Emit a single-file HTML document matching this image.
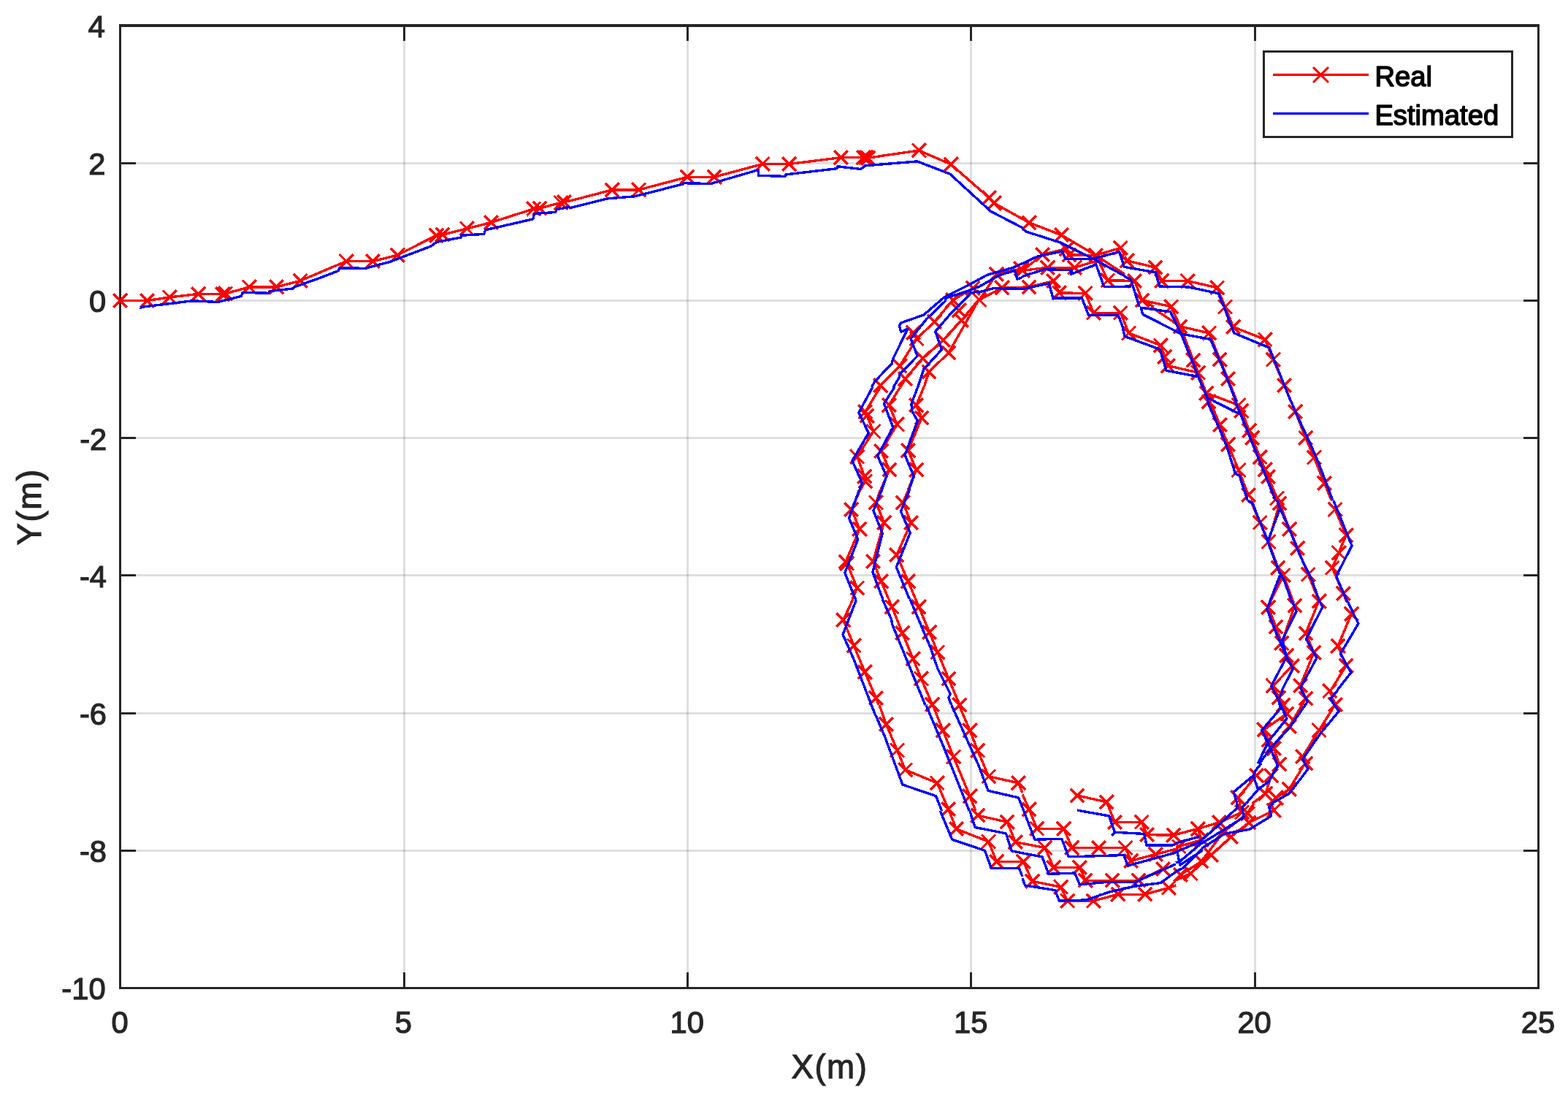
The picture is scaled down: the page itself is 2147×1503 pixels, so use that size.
<!DOCTYPE html>
<html lang="en"><head><meta charset="utf-8"><title>Real vs Estimated trajectory</title>
<style>
html,body{margin:0;padding:0;background:#fff;}
body{width:2147px;height:1503px;overflow:hidden;}
svg{display:block;}
text{font-family:"Liberation Sans",sans-serif;}
.tk{font-size:41.7px;fill:#262626;stroke:#262626;stroke-width:1.2px;}
.lb{font-size:45.8px;fill:#262626;stroke:#262626;stroke-width:1.1px;}
.lg{font-size:38.2px;fill:#000;stroke:#000;stroke-width:1.5px;stroke-linejoin:round;}
</style></head><body>
<svg width="2147" height="1503" viewBox="0 0 2147 1503">
<rect x="0" y="0" width="2147" height="1503" fill="#fff"/>
<g stroke="#262626" stroke-opacity="0.15" stroke-width="3.0" fill="none" shape-rendering="crispEdges">
<line x1="553.0" y1="35.0" x2="553.0" y2="1352.4"/>
<line x1="941.4" y1="35.0" x2="941.4" y2="1352.4"/>
<line x1="1329.8" y1="35.0" x2="1329.8" y2="1352.4"/>
<line x1="1718.2" y1="35.0" x2="1718.2" y2="1352.4"/>
<line x1="164.6" y1="223.2" x2="2106.6" y2="223.2"/>
<line x1="164.6" y1="411.4" x2="2106.6" y2="411.4"/>
<line x1="164.6" y1="599.6" x2="2106.6" y2="599.6"/>
<line x1="164.6" y1="787.8" x2="2106.6" y2="787.8"/>
<line x1="164.6" y1="976.0" x2="2106.6" y2="976.0"/>
<line x1="164.6" y1="1164.2" x2="2106.6" y2="1164.2"/>
</g>
<g stroke="#262626" stroke-width="3.0" fill="none" stroke-linecap="butt" shape-rendering="crispEdges">
<line x1="553.0" y1="1352.4" x2="553.0" y2="1331.4"/>
<line x1="553.0" y1="35.0" x2="553.0" y2="56.0"/>
<line x1="941.4" y1="1352.4" x2="941.4" y2="1331.4"/>
<line x1="941.4" y1="35.0" x2="941.4" y2="56.0"/>
<line x1="1329.8" y1="1352.4" x2="1329.8" y2="1331.4"/>
<line x1="1329.8" y1="35.0" x2="1329.8" y2="56.0"/>
<line x1="1718.2" y1="1352.4" x2="1718.2" y2="1331.4"/>
<line x1="1718.2" y1="35.0" x2="1718.2" y2="56.0"/>
<line x1="164.6" y1="223.2" x2="185.6" y2="223.2"/>
<line x1="2106.6" y1="223.2" x2="2085.6" y2="223.2"/>
<line x1="164.6" y1="411.4" x2="185.6" y2="411.4"/>
<line x1="2106.6" y1="411.4" x2="2085.6" y2="411.4"/>
<line x1="164.6" y1="599.6" x2="185.6" y2="599.6"/>
<line x1="2106.6" y1="599.6" x2="2085.6" y2="599.6"/>
<line x1="164.6" y1="787.8" x2="185.6" y2="787.8"/>
<line x1="2106.6" y1="787.8" x2="2085.6" y2="787.8"/>
<line x1="164.6" y1="976.0" x2="185.6" y2="976.0"/>
<line x1="2106.6" y1="976.0" x2="2085.6" y2="976.0"/>
<line x1="164.6" y1="1164.2" x2="185.6" y2="1164.2"/>
<line x1="2106.6" y1="1164.2" x2="2085.6" y2="1164.2"/>
<rect x="164.6" y="35.0" width="1942.0" height="1317.4"/>
<rect x="163" y="33" width="1945" height="1" fill="#262626" stroke="none"/>
</g>
<g id="real" shape-rendering="crispEdges" stroke="#ff0000" stroke-width="3.4" fill="none" stroke-linejoin="round">
<path d="M164.7 411.5 L201.4 411.5 L232.4 406.9 L271.6 402.4 L305.1 402.7 L308.6 402.0 L341.4 392.9 L378.5 392.9 L411.3 384.3 L430.0 376.3"/>
<path d="M430.0 376.3 L474.1 357.6 L510.3 357.6 L544.4 349.2 L597.5 322.2 L605.9 321.3 L639.4 312.9 L672.4 304.5 L730.7 285.9 L739.1 285.0 L768.0 277.5 L772.6 276.6 L780.0 274.7"/>
<path d="M780.0 275.1 L838.2 259.9 L874.6 259.9 L941.1 242.3 L978.0 242.3 L1044.1 224.5 L1080.8 224.5 L1140.0 217.1"/>
<path d="M1140.0 217.1 L1151.3 215.7 L1182.4 215.7 L1188.6 216.1 L1258.4 206.0 L1302.2 225.0 L1354.4 270.7 L1361.3 278.1 L1400.0 299.7"/>
<path d="M1400.0 299.7 L1409.1 304.8 L1422.7 310.0"/>
<path d="M1422.7 310.0 L1453.4 321.7 L1500.3 349.4 L1540.0 375.4"/>
<path d="M1400.1 370.4 L1427.4 348.6 L1460.1 340.6 L1463.8 349.0 L1500.3 349.4 L1534.3 339.3 L1540.0 350.1"/>
<path d="M1400.0 370.4 L1400.1 370.4 L1434.5 366.2 L1471.4 366.2 L1504.1 356.5 L1516.7 383.8 L1540.0 383.8"/>
<path d="M1400.0 393.2 L1408.9 393.0 L1442.5 384.6 L1450.4 401.0 L1486.1 401.4 L1497.4 428.2 L1534.3 428.2 L1536.6 434.0"/>
<path d="M1540.0 350.8 L1543.1 356.9 L1582.0 366.1 L1590.8 384.6 L1626.1 384.6 L1666.7 393.8 L1677.4 420.0"/>
<path d="M1540.0 384.6 L1553.5 384.6 L1564.0 411.0 L1603.8 419.8 L1604.0 420.0"/>
<path d="M1564.0 411.0 L1579.9 420.0"/>
<path d="M1677.5 420.1 L1688.7 447.5 L1700.0 452.0"/>
<path d="M1700.0 452.0 L1732.3 464.8 L1743.4 492.2 L1758.5 527.4 L1768.1 550.0"/>
<path d="M1603.2 420.0 L1603.7 420.1 L1616.0 446.9 L1655.7 455.9 L1670.2 492.2 L1681.4 518.5 L1693.7 550.0"/>
<path d="M1576.4 420.0 L1616.0 446.9 L1633.9 492.8 L1640.6 510.1 L1651.8 538.1 L1655.1 549.8"/>
<path d="M1540.0 442.2 L1545.6 455.9 L1589.2 472.7 L1594.8 488.3 L1599.2 500.6 L1640.6 510.1"/>
<path d="M1536.7 434.0 L1540.0 442.2"/>
<path d="M1651.8 538.1 L1683.9 550.0"/>
<path d="M1657.0 550.0 L1670.3 581.4 L1681.5 608.2 L1696.0 643.5 L1709.4 677.6"/>
<path d="M1696.0 554.6 L1699.9 562.4 L1710.5 589.2 L1714.5 599.3 L1725.1 625.6 L1732.3 642.9 L1736.3 652.4 L1748.6 682.0 L1750.0 685.0"/>
<path d="M1773.7 563.5 L1787.7 599.3 L1799.4 626.1 L1813.4 661.3 L1823.2 685.0"/>
<path d="M1683.8 550.0 L1696.0 554.6"/>
<path d="M1712.3 685.0 L1725.3 715.3 L1737.0 741.5 L1749.9 777.3 L1757.1 787.4 L1771.4 825.0"/>
<path d="M1750.1 685.0 L1752.1 689.0 L1765.5 724.2 L1776.7 750.5 L1791.2 786.3 L1806.3 823.1"/>
<path d="M1752.1 689.0 L1737.0 741.5"/>
<path d="M1757.1 787.4 L1738.8 825.0"/>
<path d="M1828.1 697.4 L1843.2 732.6 L1833.1 756.6 L1824.2 777.3 L1839.3 812.5 L1844.6 825.0"/>
<path d="M1736.5 831.2 L1747.1 858.1 L1754.9 880.4 L1761.6 897.2 L1769.4 911.7 L1743.2 938.6 L1746.4 945.0"/>
<path d="M1772.8 829.0 L1754.9 880.4"/>
<path d="M1804.8 825.0 L1787.9 867.0 L1799.0 893.3 L1780.6 938.6 L1783.2 945.0"/>
<path d="M1850.5 840.2 L1832.0 884.3 L1843.2 911.2 L1822.1 945.0"/>
<path d="M1821.3 945.0 L1820.7 945.9 L1828.3 964.4 L1806.1 999.6 L1783.8 1035.6 L1788.0 1044.9 L1787.9 1045.0"/>
<path d="M1783.3 945.0 L1788.0 956.0 L1765.4 994.6 L1741.9 1022.2"/>
<path d="M1746.1 945.0 L1751.1 955.2 L1757.0 965.2 L1762.0 976.9 L1731.0 998.7 L1736.9 1013.0 L1744.4 1024.7 L1750.9 1045.0"/>
<path d="M1755.5 945.0 L1751.1 955.2"/>
<path d="M1786.9 1045.0 L1765.2 1080.2 L1747.3 1092.0 L1742.4 1100.0"/>
<path d="M1751.8 1046.1 L1740.6 1061.8 L1732.8 1086.4 L1714.4 1100.0"/>
<path d="M1720.5 1061.8 L1694.8 1092.0 L1698.5 1100.0"/>
<path d="M1740.6 1100.0 L1744.2 1109.3 L1709.8 1126.1 L1685.5 1145.4 L1658.7 1170.5 L1630.2 1195.7 L1610.0 1205.2"/>
<path d="M1716.5 1100.0 L1708.2 1113.5 L1675.5 1138.7 L1645.3 1178.9 L1616.8 1197.4"/>
<path d="M1696.7 1100.0 L1700.6 1111.9 L1669.4 1125.8 L1640.2 1134.5 L1610.0 1142.2"/>
<path d="M1640.2 1134.5 L1645.3 1149.6 L1614.3 1158.8 L1610.0 1159.8"/>
<path d="M1475.0 1088.9 L1515.3 1097.9 L1526.4 1125.3 L1563.3 1125.3 L1570.6 1142.6 L1606.9 1143.2 L1610.0 1142.8"/>
<path d="M1400.0 1087.3 L1409.1 1107.9 L1419.7 1134.2 L1456.6 1134.2 L1467.8 1160.5 L1504.6 1160.5 L1541.0 1160.5 L1548.8 1178.4 L1582.3 1169.4 L1610.0 1162.3"/>
<path d="M1400.0 1154.5 L1430.9 1160.5 L1442.6 1187.3 L1478.4 1187.3 L1486.2 1205.2 L1523.1 1205.2 L1558.9 1205.2 L1592.4 1189.5"/>
<path d="M1400.0 1179.5 L1401.2 1179.5 L1413.5 1206.3 L1452.7 1214.1 L1461.6 1233.1 L1497.4 1233.1 L1530.9 1224.2 L1567.8 1224.2 L1600.2 1215.3 L1610.0 1211.9"/>
<path d="M1204.0 965.0 L1213.4 991.3 L1228.5 1027.1 L1239.7 1053.9 L1283.3 1071.8 L1298.4 1107.6 L1299.3 1110.0"/>
<path d="M1277.3 965.0 L1291.1 999.7 L1305.6 1036.0 L1328.0 1089.7 L1336.0 1110.0"/>
<path d="M1313.1 965.0 L1328.0 999.7 L1338.6 1027.1 L1353.7 1062.8 L1394.5 1071.8 L1400.0 1085.3"/>
<path d="M1168.0 820.0 L1154.7 848.6 L1169.2 883.8 L1184.3 920.1 L1199.4 955.3 L1203.2 965.0"/>
<path d="M1216.8 820.0 L1221.2 830.7 L1235.7 866.5 L1250.2 901.7 L1261.4 929.0 L1276.5 964.3 L1276.8 965.0"/>
<path d="M1253.7 820.0 L1258.1 830.7 L1272.6 865.3 L1283.8 892.7 L1298.9 929.0 L1313.9 964.8 L1314.0 965.0"/>
<path d="M1178.1 670.0 L1165.8 697.4 L1177.0 724.3 L1158.0 769.0 L1159.7 771.2 L1173.7 804.8 L1167.0 820.0"/>
<path d="M1205.8 670.0 L1199.4 687.9 L1210.5 715.3 L1195.5 768.4 L1206.6 795.8 L1216.7 820.0"/>
<path d="M1244.2 670.0 L1236.3 687.9 L1247.4 715.3 L1227.9 759.5 L1243.5 795.8 L1253.6 820.0"/>
<path d="M1205.3 530.0 L1184.8 563.7 L1187.1 569.2 L1196.0 590.5 L1173.7 625.1 L1183.7 652.0 L1184.8 658.7 L1178.3 670.0"/>
<path d="M1232.5 530.0 L1217.3 554.7 L1228.4 581.0 L1206.6 617.3 L1217.8 643.0 L1206.2 670.0"/>
<path d="M1264.9 530.0 L1254.7 554.7 L1262.0 572.0 L1243.5 616.8 L1254.7 643.0 L1243.5 670.0"/>
<path d="M1204.3 530.0 L1205.8 527.6 L1232.0 500.7 L1255.3 463.8 L1279.5 440.3 L1304.7 411.0 L1332.1 394.5 L1340.0 392.3"/>
<path d="M1233.2 530.0 L1239.3 518.6 L1263.7 490.6 L1291.3 465.5 L1316.5 438.6 L1340.0 410.3"/>
<path d="M1265.2 530.0 L1271.9 509.0 L1298.9 483.0 L1340.0 410.7"/>
<path d="M1299.7 1110.0 L1309.3 1134.7 L1353.5 1152.0 L1364.6 1179.4 L1400.0 1179.4"/>
<path d="M1338.9 1116.3 L1379.2 1125.2 L1390.3 1152.6 L1400.0 1154.6"/>
<path d="M1341.0 410.5 L1364.5 375.3 L1398.0 367.8 L1400.0 366.5"/>
<path d="M1398.0 367.8 L1400.0 367.7"/>
<path d="M1341.0 410.5 L1372.0 393.8 L1400.0 393.8"/>
<path stroke-linecap="butt" d="M155.3 402.1l18.8 18.8M155.3 420.9l18.8 -18.8M192.0 402.1l18.8 18.8M192.0 420.9l18.8 -18.8M223.0 397.5l18.8 18.8M223.0 416.3l18.8 -18.8M262.2 393.0l18.8 18.8M262.2 411.8l18.8 -18.8M295.7 393.3l18.8 18.8M295.7 412.1l18.8 -18.8M299.2 392.6l18.8 18.8M299.2 411.4l18.8 -18.8M332.0 383.5l18.8 18.8M332.0 402.3l18.8 -18.8M369.1 383.5l18.8 18.8M369.1 402.3l18.8 -18.8M401.9 374.9l18.8 18.8M401.9 393.7l18.8 -18.8M464.7 348.2l18.8 18.8M464.7 367.0l18.8 -18.8M500.9 348.2l18.8 18.8M500.9 367.0l18.8 -18.8M535.0 339.8l18.8 18.8M535.0 358.6l18.8 -18.8M588.1 312.8l18.8 18.8M588.1 331.6l18.8 -18.8M596.5 311.9l18.8 18.8M596.5 330.7l18.8 -18.8M630.0 303.5l18.8 18.8M630.0 322.3l18.8 -18.8M663.0 295.1l18.8 18.8M663.0 313.9l18.8 -18.8M721.3 276.5l18.8 18.8M721.3 295.3l18.8 -18.8M729.7 275.6l18.8 18.8M729.7 294.4l18.8 -18.8M758.6 268.1l18.8 18.8M758.6 286.9l18.8 -18.8M763.2 267.2l18.8 18.8M763.2 286.0l18.8 -18.8M828.8 250.5l18.8 18.8M828.8 269.3l18.8 -18.8M865.2 250.5l18.8 18.8M865.2 269.3l18.8 -18.8M931.7 232.9l18.8 18.8M931.7 251.7l18.8 -18.8M968.6 232.9l18.8 18.8M968.6 251.7l18.8 -18.8M1034.7 215.1l18.8 18.8M1034.7 233.9l18.8 -18.8M1071.4 215.1l18.8 18.8M1071.4 233.9l18.8 -18.8M1141.9 206.3l18.8 18.8M1141.9 225.1l18.8 -18.8M1173.0 206.3l18.8 18.8M1173.0 225.1l18.8 -18.8M1179.2 206.7l18.8 18.8M1179.2 225.5l18.8 -18.8M1249.0 196.6l18.8 18.8M1249.0 215.4l18.8 -18.8M1292.8 215.6l18.8 18.8M1292.8 234.4l18.8 -18.8M1345.0 261.3l18.8 18.8M1345.0 280.1l18.8 -18.8M1351.9 268.7l18.8 18.8M1351.9 287.5l18.8 -18.8M1399.7 295.4l18.8 18.8M1399.7 314.2l18.8 -18.8M1176.2 205.9l18.8 18.8M1176.2 224.7l18.8 -18.8M1444.0 312.3l18.8 18.8M1444.0 331.1l18.8 -18.8M1490.9 340.0l18.8 18.8M1490.9 358.8l18.8 -18.8M1390.7 361.0l18.8 18.8M1390.7 379.8l18.8 -18.8M1418.0 339.2l18.8 18.8M1418.0 358.0l18.8 -18.8M1450.7 331.2l18.8 18.8M1450.7 350.0l18.8 -18.8M1454.4 339.6l18.8 18.8M1454.4 358.4l18.8 -18.8M1524.9 329.9l18.8 18.8M1524.9 348.7l18.8 -18.8M1425.1 356.8l18.8 18.8M1425.1 375.6l18.8 -18.8M1462.0 356.8l18.8 18.8M1462.0 375.6l18.8 -18.8M1494.7 347.1l18.8 18.8M1494.7 365.9l18.8 -18.8M1507.3 374.4l18.8 18.8M1507.3 393.2l18.8 -18.8M1399.5 383.6l18.8 18.8M1399.5 402.4l18.8 -18.8M1433.1 375.2l18.8 18.8M1433.1 394.0l18.8 -18.8M1441.0 391.6l18.8 18.8M1441.0 410.4l18.8 -18.8M1476.7 392.0l18.8 18.8M1476.7 410.8l18.8 -18.8M1488.0 418.8l18.8 18.8M1488.0 437.6l18.8 -18.8M1524.9 418.8l18.8 18.8M1524.9 437.6l18.8 -18.8M1533.7 347.5l18.8 18.8M1533.7 366.3l18.8 -18.8M1572.6 356.7l18.8 18.8M1572.6 375.5l18.8 -18.8M1581.4 375.2l18.8 18.8M1581.4 394.0l18.8 -18.8M1616.7 375.2l18.8 18.8M1616.7 394.0l18.8 -18.8M1657.3 384.4l18.8 18.8M1657.3 403.2l18.8 -18.8M1544.1 375.2l18.8 18.8M1544.1 394.0l18.8 -18.8M1554.6 401.6l18.8 18.8M1554.6 420.4l18.8 -18.8M1594.4 410.4l18.8 18.8M1594.4 429.2l18.8 -18.8M1668.1 410.7l18.8 18.8M1668.1 429.5l18.8 -18.8M1679.3 438.1l18.8 18.8M1679.3 456.9l18.8 -18.8M1722.9 455.4l18.8 18.8M1722.9 474.2l18.8 -18.8M1734.0 482.8l18.8 18.8M1734.0 501.6l18.8 -18.8M1749.1 518.0l18.8 18.8M1749.1 536.8l18.8 -18.8M1606.6 437.5l18.8 18.8M1606.6 456.3l18.8 -18.8M1646.3 446.5l18.8 18.8M1646.3 465.3l18.8 -18.8M1660.8 482.8l18.8 18.8M1660.8 501.6l18.8 -18.8M1672.0 509.1l18.8 18.8M1672.0 527.9l18.8 -18.8M1624.5 483.4l18.8 18.8M1624.5 502.2l18.8 -18.8M1631.2 500.7l18.8 18.8M1631.2 519.5l18.8 -18.8M1642.4 528.7l18.8 18.8M1642.4 547.5l18.8 -18.8M1645.7 540.4l18.8 18.8M1645.7 559.2l18.8 -18.8M1536.2 446.5l18.8 18.8M1536.2 465.3l18.8 -18.8M1579.8 463.3l18.8 18.8M1579.8 482.1l18.8 -18.8M1585.4 478.9l18.8 18.8M1585.4 497.7l18.8 -18.8M1589.8 491.2l18.8 18.8M1589.8 510.0l18.8 -18.8M1660.9 572.0l18.8 18.8M1660.9 590.8l18.8 -18.8M1672.1 598.8l18.8 18.8M1672.1 617.6l18.8 -18.8M1686.6 634.1l18.8 18.8M1686.6 652.9l18.8 -18.8M1700.0 668.2l18.8 18.8M1700.0 687.0l18.8 -18.8M1686.6 545.2l18.8 18.8M1686.6 564.0l18.8 -18.8M1690.5 553.0l18.8 18.8M1690.5 571.8l18.8 -18.8M1701.1 579.8l18.8 18.8M1701.1 598.6l18.8 -18.8M1705.1 589.9l18.8 18.8M1705.1 608.7l18.8 -18.8M1715.7 616.2l18.8 18.8M1715.7 635.0l18.8 -18.8M1722.9 633.5l18.8 18.8M1722.9 652.3l18.8 -18.8M1726.9 643.0l18.8 18.8M1726.9 661.8l18.8 -18.8M1739.2 672.6l18.8 18.8M1739.2 691.4l18.8 -18.8M1764.3 554.1l18.8 18.8M1764.3 572.9l18.8 -18.8M1778.3 589.9l18.8 18.8M1778.3 608.7l18.8 -18.8M1790.0 616.7l18.8 18.8M1790.0 635.5l18.8 -18.8M1804.0 651.9l18.8 18.8M1804.0 670.7l18.8 -18.8M1715.9 705.9l18.8 18.8M1715.9 724.7l18.8 -18.8M1727.6 732.1l18.8 18.8M1727.6 750.9l18.8 -18.8M1740.5 767.9l18.8 18.8M1740.5 786.7l18.8 -18.8M1747.7 778.0l18.8 18.8M1747.7 796.8l18.8 -18.8M1742.7 679.6l18.8 18.8M1742.7 698.4l18.8 -18.8M1756.1 714.8l18.8 18.8M1756.1 733.6l18.8 -18.8M1767.3 741.1l18.8 18.8M1767.3 759.9l18.8 -18.8M1781.8 776.9l18.8 18.8M1781.8 795.7l18.8 -18.8M1796.9 813.7l18.8 18.8M1796.9 832.5l18.8 -18.8M1818.7 688.0l18.8 18.8M1818.7 706.8l18.8 -18.8M1833.8 723.2l18.8 18.8M1833.8 742.0l18.8 -18.8M1823.7 747.2l18.8 18.8M1823.7 766.0l18.8 -18.8M1814.8 767.9l18.8 18.8M1814.8 786.7l18.8 -18.8M1829.9 803.1l18.8 18.8M1829.9 821.9l18.8 -18.8M1727.1 821.8l18.8 18.8M1727.1 840.6l18.8 -18.8M1737.7 848.7l18.8 18.8M1737.7 867.5l18.8 -18.8M1745.5 871.0l18.8 18.8M1745.5 889.8l18.8 -18.8M1752.2 887.8l18.8 18.8M1752.2 906.6l18.8 -18.8M1760.0 902.3l18.8 18.8M1760.0 921.1l18.8 -18.8M1733.8 929.2l18.8 18.8M1733.8 948.0l18.8 -18.8M1763.4 819.6l18.8 18.8M1763.4 838.4l18.8 -18.8M1778.5 857.6l18.8 18.8M1778.5 876.4l18.8 -18.8M1789.6 883.9l18.8 18.8M1789.6 902.7l18.8 -18.8M1771.2 929.2l18.8 18.8M1771.2 948.0l18.8 -18.8M1841.1 830.8l18.8 18.8M1841.1 849.6l18.8 -18.8M1822.6 874.9l18.8 18.8M1822.6 893.7l18.8 -18.8M1833.8 901.8l18.8 18.8M1833.8 920.6l18.8 -18.8M1811.3 936.5l18.8 18.8M1811.3 955.3l18.8 -18.8M1818.9 955.0l18.8 18.8M1818.9 973.8l18.8 -18.8M1796.7 990.2l18.8 18.8M1796.7 1009.0l18.8 -18.8M1774.4 1026.2l18.8 18.8M1774.4 1045.0l18.8 -18.8M1778.6 1035.5l18.8 18.8M1778.6 1054.3l18.8 -18.8M1778.6 946.6l18.8 18.8M1778.6 965.4l18.8 -18.8M1756.0 985.2l18.8 18.8M1756.0 1004.0l18.8 -18.8M1732.5 1012.8l18.8 18.8M1732.5 1031.6l18.8 -18.8M1741.7 945.8l18.8 18.8M1741.7 964.6l18.8 -18.8M1747.6 955.8l18.8 18.8M1747.6 974.6l18.8 -18.8M1752.6 967.5l18.8 18.8M1752.6 986.3l18.8 -18.8M1721.6 989.3l18.8 18.8M1721.6 1008.1l18.8 -18.8M1727.5 1003.6l18.8 18.8M1727.5 1022.4l18.8 -18.8M1735.0 1015.3l18.8 18.8M1735.0 1034.1l18.8 -18.8M1755.8 1070.8l18.8 18.8M1755.8 1089.6l18.8 -18.8M1737.9 1082.6l18.8 18.8M1737.9 1101.4l18.8 -18.8M1742.4 1036.7l18.8 18.8M1742.4 1055.5l18.8 -18.8M1731.2 1052.4l18.8 18.8M1731.2 1071.2l18.8 -18.8M1723.4 1077.0l18.8 18.8M1723.4 1095.8l18.8 -18.8M1711.1 1052.4l18.8 18.8M1711.1 1071.2l18.8 -18.8M1685.4 1082.6l18.8 18.8M1685.4 1101.4l18.8 -18.8M1734.8 1099.9l18.8 18.8M1734.8 1118.7l18.8 -18.8M1700.4 1116.7l18.8 18.8M1700.4 1135.5l18.8 -18.8M1676.1 1136.0l18.8 18.8M1676.1 1154.8l18.8 -18.8M1649.3 1161.1l18.8 18.8M1649.3 1179.9l18.8 -18.8M1620.8 1186.3l18.8 18.8M1620.8 1205.1l18.8 -18.8M1698.8 1104.1l18.8 18.8M1698.8 1122.9l18.8 -18.8M1666.1 1129.3l18.8 18.8M1666.1 1148.1l18.8 -18.8M1635.9 1169.5l18.8 18.8M1635.9 1188.3l18.8 -18.8M1607.4 1188.0l18.8 18.8M1607.4 1206.8l18.8 -18.8M1691.2 1102.5l18.8 18.8M1691.2 1121.3l18.8 -18.8M1660.0 1116.4l18.8 18.8M1660.0 1135.2l18.8 -18.8M1630.8 1125.1l18.8 18.8M1630.8 1143.9l18.8 -18.8M1635.9 1140.2l18.8 18.8M1635.9 1159.0l18.8 -18.8M1604.9 1149.4l18.8 18.8M1604.9 1168.2l18.8 -18.8M1465.6 1079.5l18.8 18.8M1465.6 1098.3l18.8 -18.8M1505.9 1088.5l18.8 18.8M1505.9 1107.3l18.8 -18.8M1517.0 1115.9l18.8 18.8M1517.0 1134.7l18.8 -18.8M1553.9 1115.9l18.8 18.8M1553.9 1134.7l18.8 -18.8M1561.2 1133.2l18.8 18.8M1561.2 1152.0l18.8 -18.8M1597.5 1133.8l18.8 18.8M1597.5 1152.6l18.8 -18.8M1399.7 1098.5l18.8 18.8M1399.7 1117.3l18.8 -18.8M1410.3 1124.8l18.8 18.8M1410.3 1143.6l18.8 -18.8M1447.2 1124.8l18.8 18.8M1447.2 1143.6l18.8 -18.8M1458.4 1151.1l18.8 18.8M1458.4 1169.9l18.8 -18.8M1495.2 1151.1l18.8 18.8M1495.2 1169.9l18.8 -18.8M1531.6 1151.1l18.8 18.8M1531.6 1169.9l18.8 -18.8M1539.4 1169.0l18.8 18.8M1539.4 1187.8l18.8 -18.8M1572.9 1160.0l18.8 18.8M1572.9 1178.8l18.8 -18.8M1421.5 1151.1l18.8 18.8M1421.5 1169.9l18.8 -18.8M1433.2 1177.9l18.8 18.8M1433.2 1196.7l18.8 -18.8M1469.0 1177.9l18.8 18.8M1469.0 1196.7l18.8 -18.8M1476.8 1195.8l18.8 18.8M1476.8 1214.6l18.8 -18.8M1513.7 1195.8l18.8 18.8M1513.7 1214.6l18.8 -18.8M1549.5 1195.8l18.8 18.8M1549.5 1214.6l18.8 -18.8M1583.0 1180.1l18.8 18.8M1583.0 1198.9l18.8 -18.8M1391.8 1170.1l18.8 18.8M1391.8 1188.9l18.8 -18.8M1404.1 1196.9l18.8 18.8M1404.1 1215.7l18.8 -18.8M1443.3 1204.7l18.8 18.8M1443.3 1223.5l18.8 -18.8M1452.2 1223.7l18.8 18.8M1452.2 1242.5l18.8 -18.8M1488.0 1223.7l18.8 18.8M1488.0 1242.5l18.8 -18.8M1521.5 1214.8l18.8 18.8M1521.5 1233.6l18.8 -18.8M1558.4 1214.8l18.8 18.8M1558.4 1233.6l18.8 -18.8M1590.8 1205.9l18.8 18.8M1590.8 1224.7l18.8 -18.8M1204.0 981.9l18.8 18.8M1204.0 1000.7l18.8 -18.8M1219.1 1017.7l18.8 18.8M1219.1 1036.5l18.8 -18.8M1230.3 1044.5l18.8 18.8M1230.3 1063.3l18.8 -18.8M1273.9 1062.4l18.8 18.8M1273.9 1081.2l18.8 -18.8M1289.0 1098.2l18.8 18.8M1289.0 1117.0l18.8 -18.8M1281.7 990.3l18.8 18.8M1281.7 1009.1l18.8 -18.8M1296.2 1026.6l18.8 18.8M1296.2 1045.4l18.8 -18.8M1318.6 1080.3l18.8 18.8M1318.6 1099.1l18.8 -18.8M1318.6 990.3l18.8 18.8M1318.6 1009.1l18.8 -18.8M1329.2 1017.7l18.8 18.8M1329.2 1036.5l18.8 -18.8M1344.3 1053.4l18.8 18.8M1344.3 1072.2l18.8 -18.8M1385.1 1062.4l18.8 18.8M1385.1 1081.2l18.8 -18.8M1145.3 839.2l18.8 18.8M1145.3 858.0l18.8 -18.8M1159.8 874.4l18.8 18.8M1159.8 893.2l18.8 -18.8M1174.9 910.7l18.8 18.8M1174.9 929.5l18.8 -18.8M1190.0 945.9l18.8 18.8M1190.0 964.7l18.8 -18.8M1211.8 821.3l18.8 18.8M1211.8 840.1l18.8 -18.8M1226.3 857.1l18.8 18.8M1226.3 875.9l18.8 -18.8M1240.8 892.3l18.8 18.8M1240.8 911.1l18.8 -18.8M1252.0 919.6l18.8 18.8M1252.0 938.4l18.8 -18.8M1267.1 954.9l18.8 18.8M1267.1 973.7l18.8 -18.8M1248.7 821.3l18.8 18.8M1248.7 840.1l18.8 -18.8M1263.2 855.9l18.8 18.8M1263.2 874.7l18.8 -18.8M1274.4 883.3l18.8 18.8M1274.4 902.1l18.8 -18.8M1289.5 919.6l18.8 18.8M1289.5 938.4l18.8 -18.8M1304.5 955.4l18.8 18.8M1304.5 974.2l18.8 -18.8M1156.4 688.0l18.8 18.8M1156.4 706.8l18.8 -18.8M1167.6 714.9l18.8 18.8M1167.6 733.7l18.8 -18.8M1148.6 759.6l18.8 18.8M1148.6 778.4l18.8 -18.8M1150.3 761.8l18.8 18.8M1150.3 780.6l18.8 -18.8M1164.3 795.4l18.8 18.8M1164.3 814.2l18.8 -18.8M1190.0 678.5l18.8 18.8M1190.0 697.3l18.8 -18.8M1201.1 705.9l18.8 18.8M1201.1 724.7l18.8 -18.8M1186.1 759.0l18.8 18.8M1186.1 777.8l18.8 -18.8M1197.2 786.4l18.8 18.8M1197.2 805.2l18.8 -18.8M1226.9 678.5l18.8 18.8M1226.9 697.3l18.8 -18.8M1238.0 705.9l18.8 18.8M1238.0 724.7l18.8 -18.8M1218.5 750.1l18.8 18.8M1218.5 768.9l18.8 -18.8M1234.1 786.4l18.8 18.8M1234.1 805.2l18.8 -18.8M1175.4 554.3l18.8 18.8M1175.4 573.1l18.8 -18.8M1177.7 559.8l18.8 18.8M1177.7 578.6l18.8 -18.8M1186.6 581.1l18.8 18.8M1186.6 599.9l18.8 -18.8M1164.3 615.7l18.8 18.8M1164.3 634.5l18.8 -18.8M1174.3 642.6l18.8 18.8M1174.3 661.4l18.8 -18.8M1175.4 649.3l18.8 18.8M1175.4 668.1l18.8 -18.8M1207.9 545.3l18.8 18.8M1207.9 564.1l18.8 -18.8M1219.0 571.6l18.8 18.8M1219.0 590.4l18.8 -18.8M1197.2 607.9l18.8 18.8M1197.2 626.7l18.8 -18.8M1208.4 633.6l18.8 18.8M1208.4 652.4l18.8 -18.8M1245.3 545.3l18.8 18.8M1245.3 564.1l18.8 -18.8M1252.6 562.6l18.8 18.8M1252.6 581.4l18.8 -18.8M1234.1 607.4l18.8 18.8M1234.1 626.2l18.8 -18.8M1245.3 633.6l18.8 18.8M1245.3 652.4l18.8 -18.8M1196.4 518.2l18.8 18.8M1196.4 537.0l18.8 -18.8M1222.6 491.3l18.8 18.8M1222.6 510.1l18.8 -18.8M1245.9 454.4l18.8 18.8M1245.9 473.2l18.8 -18.8M1270.1 430.9l18.8 18.8M1270.1 449.7l18.8 -18.8M1295.3 401.6l18.8 18.8M1295.3 420.4l18.8 -18.8M1322.7 385.1l18.8 18.8M1322.7 403.9l18.8 -18.8M1229.9 509.2l18.8 18.8M1229.9 528.0l18.8 -18.8M1254.3 481.2l18.8 18.8M1254.3 500.0l18.8 -18.8M1281.9 456.1l18.8 18.8M1281.9 474.9l18.8 -18.8M1307.1 429.2l18.8 18.8M1307.1 448.0l18.8 -18.8M1262.5 499.6l18.8 18.8M1262.5 518.4l18.8 -18.8M1289.5 473.6l18.8 18.8M1289.5 492.4l18.8 -18.8M1240.9 446.1l18.8 18.8M1240.9 464.9l18.8 -18.8M1303.7 415.3l18.8 18.8M1303.7 434.1l18.8 -18.8M1299.9 1125.3l18.8 18.8M1299.9 1144.1l18.8 -18.8M1344.1 1142.6l18.8 18.8M1344.1 1161.4l18.8 -18.8M1355.2 1170.0l18.8 18.8M1355.2 1188.8l18.8 -18.8M1329.5 1106.9l18.8 18.8M1329.5 1125.7l18.8 -18.8M1369.8 1115.8l18.8 18.8M1369.8 1134.6l18.8 -18.8M1380.9 1143.2l18.8 18.8M1380.9 1162.0l18.8 -18.8M1331.6 401.1l18.8 18.8M1331.6 419.9l18.8 -18.8M1355.1 365.9l18.8 18.8M1355.1 384.7l18.8 -18.8M1388.6 358.4l18.8 18.8M1388.6 377.2l18.8 -18.8M1362.6 384.4l18.8 18.8M1362.6 403.2l18.8 -18.8"/>
</g>
<g id="estimated" shape-rendering="crispEdges" stroke="#0000ff" stroke-width="3.4" fill="none" stroke-linejoin="round" stroke-linecap="butt">
<path d="M192.6 423.0 L193.3 420.4 L263.2 411.8 L298.1 413.5 L330.3 405.5 L332.3 400.3 L368.0 401.3 L369.4 398.5 L401.5 395.0 L402.9 392.9 L430.0 383.3"/>
<path d="M430.0 383.5 L463.3 370.7 L464.8 366.9 L500.6 367.3 L533.2 358.6 L590.0 337.1 L597.5 331.5 L631.0 325.0 L632.0 322.2 L662.7 320.4 L664.6 314.8 L729.8 299.9 L731.6 292.4 L760.5 290.5 L762.4 286.8 L780.0 283.1"/>
<path d="M780.0 284.8 L830.8 272.0 L869.0 268.8 L935.1 252.0 L936.1 250.7 L973.3 251.5 L1038.5 232.5 L1038.5 240.3 L1074.9 241.4 L1075.8 239.0 L1140.0 231.4"/>
<path d="M1140.0 231.5 L1146.1 230.6 L1147.0 227.8 L1178.7 231.5 L1184.3 226.9 L1256.0 220.9 L1300.7 238.1 L1356.6 289.3 L1400.0 311.8"/>
<path d="M1400.0 313.1 L1405.2 317.1 L1451.3 331.8 L1497.4 354.4 L1540.0 377.9"/>
<path d="M1400.0 360.8 L1420.2 351.1 L1454.6 344.0 L1458.8 354.4 L1495.7 354.4 L1532.6 344.8 L1539.3 365.3 L1540.0 365.4"/>
<path d="M1400.0 378.3 L1430.3 368.7 L1467.2 369.9 L1466.4 375.4 L1500.7 362.0 L1511.6 392.2 L1540.0 392.2"/>
<path d="M1400.0 395.5 L1401.0 395.5 L1436.2 388.0 L1442.0 408.1 L1481.4 408.1 L1490.7 431.6 L1530.9 431.6 L1531.9 434.0"/>
<path d="M1540.0 365.5 L1582.0 372.8 L1587.9 392.1 L1627.3 392.9 L1668.4 401.7 L1675.7 420.0"/>
<path d="M1540.0 378.4 L1548.5 382.9 L1560.1 420.0"/>
<path d="M1540.0 392.1 L1548.5 392.1"/>
<path d="M1676.0 420.0 L1679.7 430.2 L1689.8 455.9 L1700.0 460.2"/>
<path d="M1700.0 460.2 L1737.9 476.0 L1752.4 511.8 L1767.6 550.0"/>
<path d="M1561.8 420.0 L1562.4 421.2 L1602.6 426.8 L1617.1 457.0 L1657.4 464.3 L1673.0 500.6 L1684.2 528.6 L1692.7 550.0"/>
<path d="M1562.4 421.2 L1564.6 430.2 L1617.1 457.0 L1635.0 500.6 L1639.5 512.9 L1652.9 544.2 L1654.0 550.0"/>
<path d="M1540.0 460.4 L1540.0 460.4 L1588.1 478.2 L1597.0 507.3 L1638.4 515.1 L1639.5 512.9"/>
<path d="M1532.1 434.0 L1536.8 445.9 L1540.0 460.4 L1540.0 460.4"/>
<path d="M1652.9 544.2 L1664.2 550.0"/>
<path d="M1653.8 550.0 L1654.7 553.5 L1670.3 588.1 L1680.4 612.7 L1691.5 648.5 L1697.1 650.7 L1708.2 685.0"/>
<path d="M1691.3 550.0 L1698.2 565.8 L1746.6 685.0"/>
<path d="M1663.6 550.0 L1698.2 566.9"/>
<path d="M1768.1 550.0 L1774.3 564.7 L1794.4 608.2 L1805.6 634.0 L1821.2 675.3 L1825.0 685.0"/>
<path d="M1709.4 685.0 L1710.2 686.8 L1714.7 687.9 L1735.9 741.5 L1751.5 782.9 L1758.2 794.1 L1769.3 825.0"/>
<path d="M1748.5 685.0 L1752.7 695.7 L1769.4 733.7 L1780.6 761.7 L1796.3 794.1 L1807.5 825.0"/>
<path d="M1752.7 695.7 L1735.9 741.5"/>
<path d="M1752.7 787.4 L1738.2 825.0"/>
<path d="M1825.8 685.0 L1851.0 747.1 L1830.3 787.4 L1830.9 791.8 L1845.4 825.0"/>
<path d="M1738.4 825.0 L1734.8 833.5 L1744.8 860.3 L1761.6 899.4 L1740.9 938.6 L1742.9 945.0"/>
<path d="M1770.1 825.0 L1775.0 836.8 L1756.0 876.0 L1761.6 899.4 L1770.5 915.1 L1755.2 945.0"/>
<path d="M1807.8 825.0 L1810.8 831.2 L1788.4 874.8 L1803.0 900.5 L1780.6 941.9 L1782.2 945.0"/>
<path d="M1846.0 825.0 L1860.0 853.6 L1835.4 895.0 L1849.9 920.7 L1830.9 945.0"/>
<path d="M1831.5 945.0 L1821.6 956.8 L1833.3 973.6 L1808.2 1003.8 L1783.8 1039.0 L1786.2 1045.0"/>
<path d="M1781.9 945.0 L1790.5 960.2 L1766.2 995.4 L1739.4 1024.7 L1724.7 1045.0"/>
<path d="M1756.8 945.0 L1750.3 957.7 L1762.0 983.7 L1736.9 1014.7 L1722.4 1045.0"/>
<path d="M1743.7 945.0 L1750.3 957.7 L1753.7 969.4 L1727.7 999.6 L1736.9 1018.9 L1748.4 1045.0"/>
<path d="M1786.6 1045.0 L1790.9 1052.8 L1765.2 1086.4 L1740.7 1100.0"/>
<path d="M1748.1 1045.0 L1749.5 1048.4 L1737.3 1069.6 L1722.7 1080.8 L1706.0 1100.0"/>
<path d="M1726.9 1045.0 L1718.2 1056.2 L1716.0 1061.8 L1689.2 1084.1 L1693.9 1100.0"/>
<path d="M1716.0 1061.8 L1722.7 1080.8"/>
<path d="M1744.0 1100.0 L1737.5 1104.3 L1740.8 1116.9 L1710.7 1135.3 L1677.1 1141.2 L1646.9 1160.5 L1620.1 1188.2 L1610.0 1192.8"/>
<path d="M1705.8 1100.0 L1700.6 1105.2 L1703.1 1118.6 L1673.8 1137.0 L1643.6 1155.5 L1615.9 1178.9 L1610.0 1181.1"/>
<path d="M1693.3 1100.0 L1694.7 1105.2 L1668.7 1129.5 L1641.9 1152.9 L1611.7 1165.5 L1610.0 1166.0"/>
<path d="M1641.9 1145.4 L1610.0 1154.1"/>
<path d="M1611.7 1165.5 L1615.9 1184.0 L1646.9 1163.8"/>
<path d="M1475.0 1109.1 L1518.6 1116.9 L1526.4 1139.2 L1522.0 1143.7"/>
<path d="M1526.4 1139.2 L1566.7 1141.5 L1570.0 1157.1 L1604.7 1157.1 L1610.0 1155.4"/>
<path d="M1553.8 1206.9 L1556.1 1214.7"/>
<path d="M1400.0 1105.4 L1416.9 1149.3 L1453.8 1148.2 L1463.3 1172.8 L1503.0 1171.7 L1538.7 1170.5 L1544.3 1185.1 L1576.7 1176.1 L1610.0 1167.1"/>
<path d="M1400.0 1167.8 L1426.9 1172.8 L1435.9 1196.3 L1471.7 1195.1 L1478.4 1210.8 L1515.3 1207.4 L1554.4 1207.4 L1584.6 1194.0 L1610.0 1182.8"/>
<path d="M1400.0 1202.3 L1403.5 1211.9 L1444.8 1218.6 L1450.4 1233.1 L1487.3 1232.0 L1519.7 1220.8 L1554.4 1213.0 L1589.0 1208.6 L1610.0 1193.4"/>
<path d="M1193.2 965.0 L1198.2 978.0 L1200.0 981.2 L1212.3 1010.3 L1235.8 1074.0 L1281.6 1089.7 L1289.6 1110.0"/>
<path d="M1268.0 965.0 L1291.7 1021.5 L1326.3 1107.6 L1327.1 1110.0"/>
<path d="M1302.8 965.0 L1339.7 1047.2 L1353.1 1082.4 L1394.5 1091.9 L1400.0 1105.6"/>
<path d="M1171.0 820.0 L1172.0 822.3 L1154.1 868.7 L1169.2 902.8 L1193.2 965.0"/>
<path d="M1208.2 820.0 L1220.6 848.0 L1221.7 854.7 L1262.0 953.1 L1266.8 965.0"/>
<path d="M1246.0 820.0 L1274.3 887.1 L1284.3 916.2 L1301.1 949.7 L1298.9 955.3 L1302.7 965.0"/>
<path d="M1176.7 670.0 L1162.5 709.2 L1174.8 738.2 L1156.9 784.1 L1171.3 820.0"/>
<path d="M1207.7 670.0 L1196.0 699.1 L1208.3 730.4 L1194.9 783.0 L1208.7 820.0"/>
<path d="M1245.6 670.0 L1233.5 700.2 L1246.3 729.3 L1227.3 776.3 L1245.3 820.0"/>
<path d="M1194.8 530.0 L1175.9 564.8 L1189.3 592.7 L1166.9 630.7 L1180.4 660.9 L1176.8 670.0"/>
<path d="M1224.8 530.0 L1210.5 552.5 L1222.8 584.9 L1201.6 624.0 L1213.9 652.0 L1207.7 670.0"/>
<path d="M1256.6 530.0 L1248.0 552.5 L1248.6 562.5 L1256.4 576.0 L1239.0 622.9 L1251.3 652.0 L1244.8 670.0"/>
<path d="M1193.5 530.0 L1197.9 522.0 L1221.4 497.4 L1222.5 491.8 L1242.7 450.4 L1233.7 454.3 L1231.5 446.0 L1233.7 442.0 L1265.0 430.9 L1293.0 406.8 L1324.3 391.2 L1340.0 382.6"/>
<path d="M1223.3 530.0 L1231.5 516.4 L1231.5 513.0 L1256.1 487.3 L1247.1 463.8 L1268.4 437.0 L1294.1 412.4 L1295.2 407.9 L1326.5 397.9 L1340.0 392.5"/>
<path d="M1256.6 530.0 L1265.0 505.2 L1289.6 478.4 L1280.7 453.8 L1300.8 430.3 L1326.5 404.6 L1328.7 401.2 L1340.0 398.8"/>
<path d="M1287.4 1110.0 L1303.7 1149.2 L1348.4 1164.3 L1357.4 1188.4 L1395.4 1188.4 L1400.0 1199.9"/>
<path d="M1327.7 1110.0 L1328.3 1111.2 L1335.0 1132.5 L1377.5 1140.9 L1385.3 1164.9 L1400.0 1167.8"/>
<path d="M1340.0 382.8 L1351.9 376.2 L1388.0 366.1 L1400.0 360.4"/>
<path d="M1340.0 392.9 L1367.8 377.0 L1389.6 370.3 L1393.0 382.0 L1400.0 379.5"/>
<path d="M1340.0 400.2 L1360.3 394.6 L1400.0 395.4"/>
</g>
<text class="tk" x="164.0" y="1413.7" text-anchor="middle">0</text>
<text class="tk" x="552.4" y="1413.7" text-anchor="middle">5</text>
<text class="tk" x="940.8" y="1413.7" text-anchor="middle">10</text>
<text class="tk" x="1329.2" y="1413.7" text-anchor="middle">15</text>
<text class="tk" x="1717.6" y="1413.7" text-anchor="middle">20</text>
<text class="tk" x="2106.0" y="1413.7" text-anchor="middle">25</text>
<text class="tk" x="144.0" y="51.0" text-anchor="end">4</text>
<text class="tk" x="144.5" y="239.2" text-anchor="end">2</text>
<text class="tk" x="145.2" y="427.4" text-anchor="end">0</text>
<text class="tk" x="146.3" y="615.6" text-anchor="end">-2</text>
<text class="tk" x="146.0" y="803.8" text-anchor="end">-4</text>
<text class="tk" x="146.0" y="992.0" text-anchor="end">-6</text>
<text class="tk" x="146.0" y="1180.2" text-anchor="end">-8</text>
<text class="tk" x="144.6" y="1368.4" text-anchor="end">-10</text>
<text class="lb" x="1135.2" y="1476.3" text-anchor="middle" textLength="103.6" lengthAdjust="spacing">X(m)</text>
<text class="lb" transform="translate(55.8 694.6) rotate(-90)" text-anchor="middle" textLength="103.6" lengthAdjust="spacing">Y(m)</text>
<rect x="1730.6" y="70.6" width="339.9" height="116.9" fill="#fff" stroke="#262626" stroke-width="3.0" shape-rendering="crispEdges"/>
<g fill="none" stroke-width="3.1" stroke-linecap="round">
<line x1="1743.0" y1="102.4" x2="1874.0" y2="102.4" stroke="#ff0000" stroke-linecap="butt"/>
<path stroke="#ff0000" d="M1798.9 92.8l19.2 19.2M1798.9 112.0l19.2 -19.2"/>
<line x1="1743.0" y1="155.4" x2="1874.0" y2="155.4" stroke="#0000ff" stroke-linecap="butt"/>
</g>
<text class="lg" x="1882.4" y="117.9">Real</text>
<text class="lg" x="1882.4" y="170.9">Estimated</text>
</svg></body></html>
